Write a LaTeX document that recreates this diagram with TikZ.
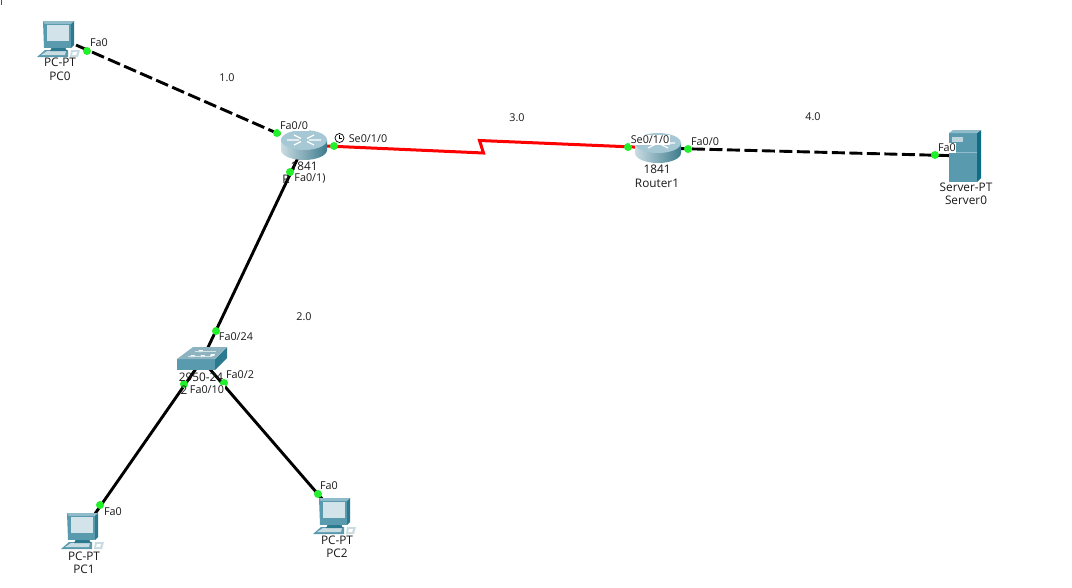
\documentclass[tikz,border=0pt]{standalone}
\usepackage{fontspec}
\setmainfont{Open Sans}
\definecolor{cLight}{HTML}{8FBBCB}
\definecolor{cMid}{HTML}{5A9AAE}
\definecolor{cDark}{HTML}{2C7A90}
\definecolor{cDeep}{HTML}{0F6C85}
\definecolor{cScreen}{HTML}{D3E3EA}
\definecolor{cPale}{HTML}{C9DCE2}
\definecolor{cGreen}{HTML}{22F02A}
\begin{document}
\begin{tikzpicture}[x=1pt,y=-1pt,
  lbl/.style={font=\fontsize{10.8}{12}\selectfont,inner sep=0.6pt,text=black!90},
  nam/.style={font=\fontsize{11.8}{13}\selectfont,inner sep=0.6pt,text=black!90},
  plate/.style={lbl,fill=white},
  lnk/.style={line width=2.9pt,black},
  dsh/.style={lnk,dash pattern=on 13pt off 4.5pt},
  ser/.style={line width=3pt,red},
  light/.style={circle,fill=cGreen,inner sep=0pt,minimum size=8pt},
  dev/.style={inner sep=0pt,minimum width=30pt,minimum height=24pt},
  pc/.pic={
    % keyboard / base
    \fill[cMid] (-23,19)--(-15,12)--(8,12)--(8,19)--cycle;
    \fill[cPale] (-19,17)--(-13,13)--(6,13)--(5,17)--cycle;
    \fill[cDark] (-8,9)--(5,9)--(7,13)--(-10,13)--cycle;
    % mouse
    \fill[cPale] (11,12)--(20,12)--(18,19)--(10,19)--cycle;
    \fill[white] (13,14)--(17,14)--(16,17)--(12,17)--cycle;
    % monitor
    \fill[cLight] (-17,-17)--(14,-17)--(11,-14)--(-15,-14)--cycle;
    \fill[cMid] (-17,-17)--(-15,-14)--(-14,9)--(-16,10)--cycle;
    \fill[cDark] (11,-14)--(14,-17)--(14,7)--(11,10)--cycle;
    \fill[cMid] (-16,4)--(11,4)--(11,10)--(-16,10)--cycle;
    \fill[cMid] (-15,-14)--(11,-14)--(11,5)--(-15,5)--cycle;
    \fill[cScreen] (-13,-13)--(9,-13)--(9,3)--(-13,3)--cycle;
  },
  router/.pic={
    \shade[left color=cPale,middle color=cPale!60!white,right color=cDark!80!gray] (-23,-5) -- (-23,5) arc[x radius=23,y radius=10,start angle=180,end angle=0] -- (23,-5) -- cycle;
    \fill[cLight!60!cPale] (0,-5) ellipse[x radius=23,y radius=10];
    \draw[white,line width=1.3pt] (-10,-10)--(-3,-6.5) (10,-10)--(3,-6.5) (-10,0)--(-3,-3.5) (10,0)--(3,-3.5) (-17,-5)--(-5,-5) (17,-5)--(5,-5);
  },
  swit/.pic={
    \fill[cMid] (-25,-1)--(-25,10)--(13,10)--(13,-1)--cycle;
    \fill[cDark] (13,-1)--(25,-13)--(25,-2)--(13,10)--cycle;
    \fill[cLight!85!gray] (-25,-1)--(-9,-13)--(25,-13)--(13,-1)--cycle;
    \fill[white] (-11,-5)--(-7,-5)--(-8,-3)--(-12,-3)--cycle (-3,-10)--(1,-10)--(0,-8)--(-4,-8)--cycle (9,-6)--(13,-6)--(12,-4)--(8,-4)--cycle (-1,-5)--(3,-5)--(2,-3)--(-2,-3)--cycle;
    \draw[white!60!cLight,line width=.5pt] (-7,-9)--(14,-9) (-14,-4)--(10,-4);
  },
  server/.pic={
    \fill[cMid] (-16,-23)--(12,-23)--(12,26)--(-16,26)--cycle;
    \fill[cDeep] (12,-23)--(16,-26)--(16,22)--(12,26)--cycle;
    \fill[cLight] (-16,-23)--(-12,-26)--(16,-26)--(12,-23)--cycle;
    \fill[cPale!90!cMid] (-13,-19)--(-2,-19)--(-2,-14)--(-13,-14)--cycle;
    \draw[cLight,line width=.6pt] (-16,-4)--(12,-4);
  }]
\useasboundingbox (0,0) rectangle (1072,587);
\fill[white] (0,0) rectangle (1072,587);
\draw[black!70,line width=.8pt] (1,0)--(1,5);
% devices (anchors for connectors)
\node[dev] (pcA) at (60,38) {};
\node[dev] (pcB) at (83,531) {};
\node[dev] (pcC) at (336,515) {};
\node[dev] (rA) at (304,145) {};
\node[dev] (rB) at (657,148) {};
\node[dev] (sw) at (202,360) {};
\node[dev] (srv) at (965,156) {};
\coordinate (zzA) at (483.5,153);
\coordinate (zzB) at (479.5,140.5);
% connectors
\draw[dsh] (pcA.center) -- (rA.center);
\draw[lnk] (rA.center) -- (sw.center);
\draw[lnk] (sw.center) -- (pcB.center);
\draw[lnk] (sw.center) -- (pcC.center);
\draw[dsh] (rB.center) -- (srv.center);
\draw[ser,line join=miter] (rA.center) -- (zzA) -- (zzB) -- (rB.center);
% icons
\pic at (pcA) {pc};
\pic at ([xshift=1pt,yshift=1pt]pcB.center) {pc};
\pic at (pcC) {pc};
\pic at (rA) {router};
\pic at ([xshift=1pt]rB.center) {router};
\pic at (sw) {swit};
\pic at (srv) {server};
% clock
\draw[black,line width=.7pt,fill=white] (339.5,138) circle (4.5pt);
\draw[black,line width=.7pt] (339.5,135) -- (339.5,138) -- (342,138);
% lights
\node[light] (l1) at (87,51) {};
\node[light] (l2) at (277,133) {};
\node[light] (l3) at (334,146) {};
\node[light] (l4) at (290,172) {};
\node[light] (l5) at (216,331) {};
\node[light] (l6) at (184,384) {};
\node[light] (l7) at (224,383) {};
\node[light] (l8) at (100,505) {};
\node[light] (l9) at (318,494) {};
\node[light] (l10) at (628,147) {};
\node[light] (l11) at (688,149) {};
\node[light] (l12) at (935,155) {};
% device names
\node[nam] (t1) at (60,62) {PC-PT};
\node[nam] (t2) at (60,76) {PC0};
\node[nam] (t3) at (84,556) {PC-PT};
\node[nam] (t4) at (84,569) {PC1};
\node[nam] (t5) at (337,540) {PC-PT};
\node[nam] (t6) at (337,553) {PC2};
\node[nam] (t7) at (304,166) {1841};
\node[nam] (t8) at (286,179) {R};
\node[nam] (t9) at (657,169) {1841};
\node[nam] (t10) at (657,183) {Router1};
\node[nam] (t11) at (966,187) {Server-PT};
\node[nam] (t12) at (966,200) {Server0};
\node[nam] (t13) at (201,377) {2950-24};
\node[nam] (t14) at (184,390) {2};
% port labels
\node[lbl] (p1) at (99,43) {Fa0};
\node[plate] (p2) at (294,126) {Fa0/0};
\node[lbl] (p3) at (368,139) {Se0/1/0};
\node[plate] (p4) at (310,178) {Fa0/1)};
\node[lbl] (p5) at (236,337) {Fa0/24};
\node[lbl] (p6) at (240,375) {Fa0/2};
\node[plate] (p7) at (207,390) {Fa0/10};
\node[lbl] (p8) at (113,512) {Fa0};
\node[lbl] (p9) at (329,486) {Fa0};
\node[plate] (p10) at (650,140) {Se0/1/0};
\node[lbl] (p11) at (705,142) {Fa0/0};
\node[plate] (p12) at (947,148) {Fa0};
% network notes
\node[lbl] (n1) at (227,78) {1.0};
\node[lbl] (n2) at (304,317) {2.0};
\node[lbl] (n3) at (517,118) {3.0};
\node[lbl] (n4) at (813,117) {4.0};
\end{tikzpicture}
\end{document}
